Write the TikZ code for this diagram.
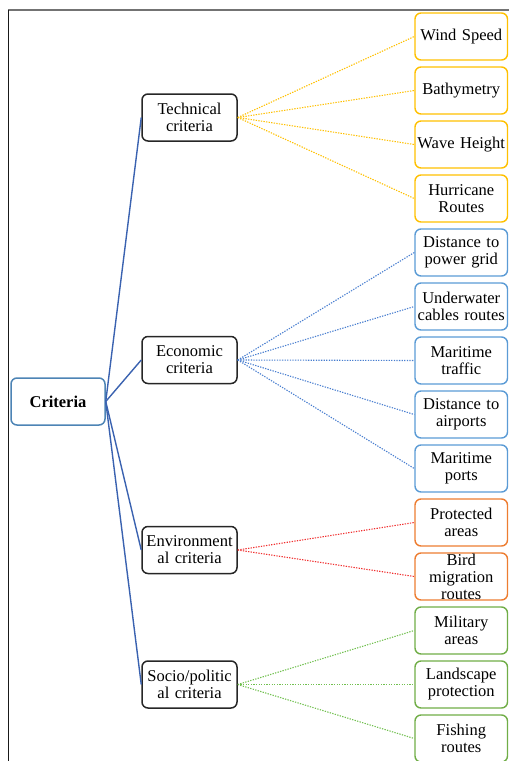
\documentclass[tikz,border=0pt]{standalone}
\usepackage{fontspec}
\setmainfont{Liberation Serif}
\definecolor{cgold}{HTML}{FFC000}
\definecolor{cblue}{HTML}{5B9BD5}
\definecolor{corange}{HTML}{ED7D31}
\definecolor{cgreen}{HTML}{70AD47}
\definecolor{cdark}{HTML}{3A62B0}
\definecolor{cbline}{HTML}{4A7FD0}
\definecolor{cred}{HTML}{F03030}
\definecolor{cgline}{HTML}{72C050}
\begin{document}
\begin{tikzpicture}[x=1pt,y=-1pt,
  txt/.style={font=\fontsize{16.5}{17}\selectfont, align=center, inner sep=0pt},
  leaf/.style={txt, draw, line width=1.4pt, rounded corners=6pt, text width=92.5pt, minimum width=92.5pt, minimum height=47pt},
  cat/.style={txt, draw=black!85, line width=1.5pt, rounded corners=6pt, text width=95pt, minimum width=95pt, minimum height=47pt},
  root/.style={txt, draw=cblue!85!black, line width=1.5pt, rounded corners=6pt, text width=94pt, minimum width=94pt, minimum height=47pt, font=\fontsize{16.5}{17}\selectfont\bfseries},
  solidlink/.style={draw=cdark, line width=1.4pt},
  dlink/.style={line width=1.1pt, dash pattern=on 1.3pt off 1.3pt}
]
\useasboundingbox (0,0) rectangle (509,761);
% frame
\draw[draw=black!55, line width=1.5pt] (8,10) -- (509,10);
\draw[draw=black!90, line width=1pt] (8,10) -- (8,761);

% root
\node[root] (crit) at (58,401.5) {Criteria};
% categories
\node[cat] (tech) at (189.5,117.5) {Technical\\criteria};
\node[cat] (econ) at (189.5,360) {Economic\\criteria};
\node[cat] (env) at (189.5,550) {Environment\\al criteria};
\node[cat] (soc) at (189.5,684.5) {Socio/politic\\al criteria};

% leaves
\node[leaf, draw=cgold] (l1) at (461.25,36.5) {Wind Speed};
\node[leaf, draw=cgold] (l2) at (461.25,90.5) {Bathymetry};
\node[leaf, draw=cgold] (l3) at (461.25,144.5) {Wave Height};
\node[leaf, draw=cgold] (l4) at (461.25,198.5) {Hurricane\\Routes};
\node[leaf, draw=cblue] (l5) at (461.25,252.5) {Distance to\\power grid};
\node[leaf, draw=cblue] (l6) at (461.25,306.5) {Underwater\\cables routes};
\node[leaf, draw=cblue] (l7) at (461.25,360.5) {Maritime\\traffic};
\node[leaf, draw=cblue] (l8) at (461.25,414.5) {Distance to\\airports};
\node[leaf, draw=cblue] (l9) at (461.25,468.5) {Maritime\\ports};
\node[leaf, draw=corange] (l10) at (461.25,522.5) {Protected\\areas};
\node[leaf, draw=corange] (l11) at (461.25,576.5) {Bird\\migration\\routes};
\node[leaf, draw=cgreen] (l12) at (461.25,630.5) {Military\\areas};
\node[leaf, draw=cgreen] (l13) at (461.25,684.5) {Landscape\\protection};
\node[leaf, draw=cgreen] (l14) at (461.25,738.5) {Fishing\\routes};

% root links
\foreach \c in {tech,econ,env,soc}
  \draw[solidlink] (crit.east) -- (\c.west);

% dotted links
\foreach \l in {l1,l2,l3,l4}
  \draw[dlink, draw=cgold] (tech.east) -- (\l.west);
\foreach \l in {l5,l6,l7,l8,l9}
  \draw[dlink, draw=cbline] (econ.east) -- (\l.west);
\foreach \l in {l10,l11}
  \draw[dlink, draw=cred] (env.east) -- (\l.west);
\foreach \l in {l12,l13,l14}
  \draw[dlink, draw=cgline] (soc.east) -- (\l.west);
\end{tikzpicture}
\end{document}
